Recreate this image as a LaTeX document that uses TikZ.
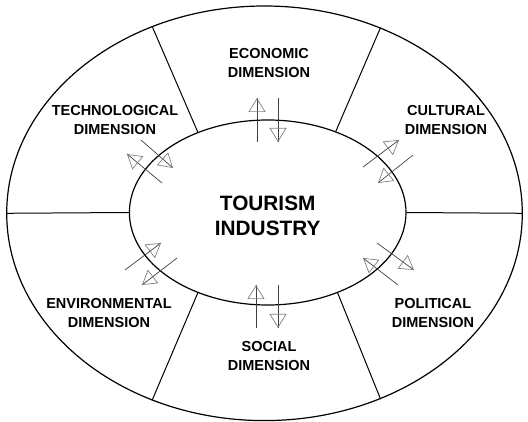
\documentclass[tikz,border=0pt]{standalone}
\usepackage{fontspec}
\setsansfont{Liberation Sans}
\usetikzlibrary{shapes.geometric, arrows.meta, decorations.markings}

\tikzset{
  ring/.style={ellipse, draw, line width=1.2pt, inner sep=0pt},
  divider/.style={line width=1pt},
  dimlabel/.style={align=center, font=\sffamily\bfseries\fontsize{14.5}{19.5}\selectfont},
  flow/.style={draw=black!75, line width=0.7pt, postaction={decorate},
    decoration={markings, mark=at position 1 with {\arrow[draw=black!50, line width=0.7pt]{Triangle[open, length=14pt, width=17pt]}}}},
}

\begin{document}
\begin{tikzpicture}[x=1pt, y=-1pt]
    \useasboundingbox (0,0) rectangle (528,422);

    % Elipse exterior y nucleo central
    \node[ring, minimum width=515.6pt, minimum height=414.6pt] (outer) at (264.5,213.3) {};
    \node[ring, minimum width=276.6pt, minimum height=185pt] (hub) at (267.7,212.5) {};
    \node[align=center, font=\sffamily\bfseries\fontsize{20.8}{25}\selectfont,
          yshift=-3pt] (core) at (hub) {TOURISM\\INDUSTRY};

    % Divisiones del anillo
    \draw[divider] (hub.180) -- (outer.180);
    \draw[divider] (hub.0) -- (outer.0);
    \draw[divider] (hub.131) -- (outer.121);
    \draw[divider] (hub.50) -- (outer.58);
    \draw[divider] (hub.229) -- (outer.239);
    \draw[divider] (hub.311) -- (outer.302);

    % Etiquetas de cada dimension
    \node[dimlabel] (economic) at (269,63) {ECONOMIC\\DIMENSION};
    \node[dimlabel] (technological) at (115,120) {TECHNOLOGICAL\\DIMENSION};
    \node[dimlabel] (cultural) at (446,120) {CULTURAL\\DIMENSION};
    \node[dimlabel] (environmental) at (109,313) {ENVIRONMENTAL\\DIMENSION};
    \node[dimlabel] (political) at (433,313) {POLITICAL\\DIMENSION};
    \node[dimlabel] (social) at (269,356) {SOCIAL\\DIMENSION};

    % Puntos de las flechas dobles
    \coordinate (ec1) at (257,142); \coordinate (ec2) at (257,98);
    \coordinate (ec3) at (278,98);  \coordinate (ec4) at (278,142);
    \coordinate (cu1) at (363,167); \coordinate (cu2) at (399,140);
    \coordinate (cu3) at (413,155); \coordinate (cu4) at (378,183);
    \coordinate (po1) at (377,243); \coordinate (po2) at (414,270);
    \coordinate (po3) at (398,285); \coordinate (po4) at (363,258);
    \coordinate (so1) at (278,285); \coordinate (so2) at (278,328);
    \coordinate (so3) at (256,328); \coordinate (so4) at (256,285);
    \coordinate (en1) at (177,258); \coordinate (en2) at (142,285);
    \coordinate (en3) at (125,270); \coordinate (en4) at (161,243);
    \coordinate (te1) at (162,183); \coordinate (te2) at (127,154);
    \coordinate (te3) at (141,140); \coordinate (te4) at (173,168);

    % Flechas de ida y vuelta
    \foreach \p in {ec,cu,po,so,en,te} {
        \draw[flow] (\p1) -- (\p2);
        \draw[flow] (\p3) -- (\p4);
    }
\end{tikzpicture}
\end{document}
